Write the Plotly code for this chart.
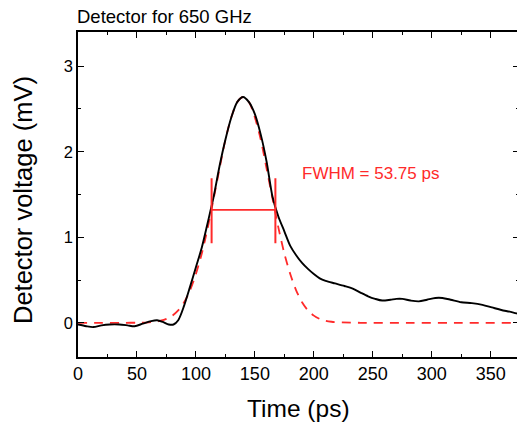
import plotly.graph_objects as go

# Measured detector signal (black)
time_meas = [0, 7, 13, 20, 27, 35, 42, 48, 55, 62, 67, 72, 77, 81, 85, 90, 95, 100, 105, 110,
             115, 120, 125, 130, 135, 140, 145, 150, 155, 160, 165, 170, 175, 180, 185, 190,
             195, 200, 205, 210, 218, 226, 233, 240, 246, 252, 258, 265, 270, 275, 282, 289,
             296, 303, 309, 316, 325, 334, 343, 351, 359, 366, 372, 377]
volt_meas = [-0.02, -0.04, -0.05, -0.03, -0.02, -0.02, -0.03, -0.04, -0.01, 0.02, 0.03, 0.01,
             -0.02, -0.02, 0.03, 0.20, 0.42, 0.65, 0.88, 1.17, 1.47, 1.83, 2.14, 2.40, 2.58,
             2.64, 2.58, 2.44, 2.20, 1.88, 1.47, 1.24, 1.07, 0.90, 0.79, 0.70, 0.63, 0.57,
             0.52, 0.49, 0.46, 0.43, 0.40, 0.35, 0.31, 0.28, 0.26, 0.27, 0.28, 0.28, 0.26,
             0.25, 0.27, 0.29, 0.29, 0.27, 0.24, 0.23, 0.21, 0.18, 0.15, 0.13, 0.11, 0.10]

# Gaussian fit (red dashed)
time_fit = [0, 20, 40, 50, 60, 65, 70, 75, 80, 85, 90, 95, 100, 105, 110, 115, 120, 125, 130,
            135, 140, 145, 150, 155, 160, 165, 170, 175, 180, 185, 190, 195, 200, 205, 210,
            215, 220, 240, 280, 320, 377]
volt_fit = [0.0, 0.0, 0.0, 0.001, 0.006, 0.012, 0.024, 0.046, 0.084, 0.145, 0.24, 0.38, 0.57,
            0.81, 1.11, 1.45, 1.80, 2.14, 2.40, 2.58, 2.64, 2.58, 2.40, 2.14, 1.80, 1.45,
            1.11, 0.81, 0.57, 0.38, 0.24, 0.145, 0.084, 0.046, 0.024, 0.012, 0.006, 0.0,
            0.0, 0.0, 0.0]

# FWHM marker
fwhm_left, fwhm_right = 113.3, 167.4
half_max = 1.32
bar_low, bar_high = 0.93, 1.69
fwhm_text = "FWHM = 53.75 ps"

x_ticks = [0, 50, 100, 150, 200, 250, 300, 350]
y_ticks = [0, 1, 2, 3]

RED = "#ff2a2a"
FONT = "Liberation Sans, Arial, sans-serif"

fig = go.Figure()
fig.add_trace(go.Scatter(x=time_fit, y=volt_fit, mode="lines",
                         line=dict(color=RED, width=1.8, dash="9px,7px", shape="spline", smoothing=0.8),
                         hoverinfo="skip"))
fig.add_trace(go.Scatter(x=time_meas, y=volt_meas, mode="lines",
                         line=dict(color="black", width=1.9, shape="spline", smoothing=0.8),
                         hoverinfo="skip"))
# FWHM bars
fig.add_trace(go.Scatter(x=[fwhm_left, fwhm_right], y=[half_max, half_max], mode="lines",
                         line=dict(color=RED, width=1.6), hoverinfo="skip"))
for xb in (fwhm_left, fwhm_right):
    fig.add_trace(go.Scatter(x=[xb, xb], y=[bar_low, bar_high], mode="lines",
                             line=dict(color=RED, width=2), hoverinfo="skip"))

fig.add_annotation(x=188, y=1.75, xref="x", yref="y", text=fwhm_text, showarrow=False,
                   xanchor="left", yanchor="middle", font=dict(family=FONT, size=17, color=RED))
fig.add_annotation(x=0, y=1, xref="paper", yref="paper", yshift=16, xshift=-3,
                   text="Detector for 650 GHz",
                   showarrow=False, xanchor="left", yanchor="middle",
                   font=dict(family=FONT, size=18.5, color="black"))
fig.add_annotation(x=0.5, y=0, xref="paper", yref="paper", yshift=-51, xshift=0, text="Time (ps)",
                   showarrow=False, xanchor="center", yanchor="middle",
                   font=dict(family=FONT, size=24.5, color="black"))
fig.add_annotation(x=0, y=0.483, xref="paper", yref="paper", xshift=-55, text="Detector voltage (mV)",
                   showarrow=False, textangle=-90, xanchor="center", yanchor="middle",
                   font=dict(family=FONT, size=25.5, color="black"))

axis_common = dict(showgrid=False, zeroline=False, showline=True, linecolor="black", linewidth=1.5,
                   mirror="ticks", ticks="inside", ticklen=6, tickwidth=1.3, tickcolor="black")
fig.update_xaxes(range=[0, 374], tickvals=x_ticks, ticktext=[str(v) for v in x_ticks],
                 tickfont=dict(family=FONT, size=18, color="black"),
                 minor=dict(dtick=25, tick0=0, ticks="inside", ticklen=3, tickcolor="black", tickwidth=1.2),
                 **axis_common)
fig.update_yaxes(range=[-0.4, 3.4], tickvals=y_ticks, ticktext=[str(v) for v in y_ticks],
                 tickfont=dict(family=FONT, size=16.5, color="black"),
                 minor=dict(dtick=0.5, tick0=0, ticks="inside", ticklen=3, tickcolor="black", tickwidth=1.2),
                 **axis_common)

# the plot's right frame lies just past the window edge, as in the reference
fig.update_layout(width=522, height=423, margin=dict(l=78, r=1, t=32, b=66),
                  paper_bgcolor="white", plot_bgcolor="white", showlegend=False)

page_js = ("document.body.style.margin='0';"
           "document.body.style.overflow='hidden';"
           "document.documentElement.style.overflow='hidden';")
fig.write_html("out.html", post_script=page_js, config={"displayModeBar": False})
